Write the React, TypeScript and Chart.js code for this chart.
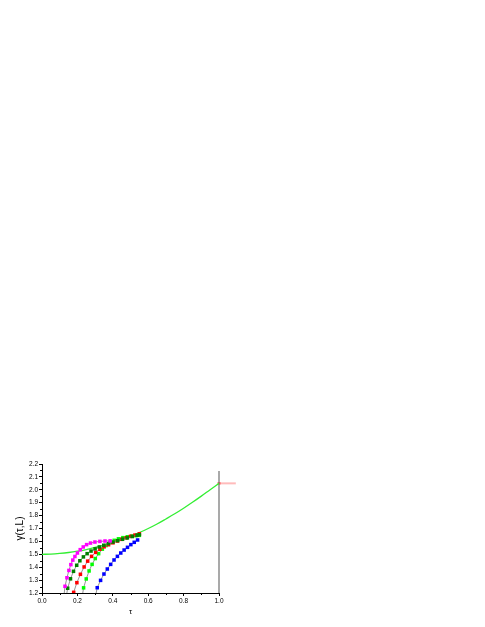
import { useEffect, useRef } from "react";
import { Chart, registerables } from "chart.js";

Chart.register(...registerables);

// Reference curve gamma(tau)
const curveTau = [0, 0.05, 0.1, 0.15, 0.2, 0.25, 0.3, 0.35, 0.4, 0.45, 0.5, 0.55, 0.6, 0.65, 0.7, 0.75, 0.8, 0.85, 0.9, 0.95, 1.0];
const curveGamma = [1.5, 1.502, 1.507, 1.514, 1.524, 1.537, 1.553, 1.571, 1.592, 1.615, 1.641, 1.669, 1.7, 1.735, 1.774, 1.814, 1.857, 1.903, 1.951, 2.001, 2.05];

// Finite-size series (first point of each lies just below the axis: line only)
const magentaTau = [0.124, 0.13, 0.141, 0.152, 0.163, 0.174, 0.186, 0.2, 0.216, 0.233, 0.252, 0.274, 0.299, 0.327, 0.356, 0.385];
const magentaGamma = [1.18, 1.252, 1.318, 1.375, 1.42, 1.455, 1.483, 1.51, 1.536, 1.557, 1.575, 1.587, 1.595, 1.6, 1.603, 1.604];

const darkGreenTau = [0.138, 0.145, 0.161, 0.178, 0.196, 0.214, 0.234, 0.255, 0.277, 0.3, 0.324, 0.349, 0.375, 0.401, 0.428, 0.455, 0.482, 0.51, 0.537, 0.55];
const darkGreenGamma = [1.18, 1.237, 1.31, 1.368, 1.415, 1.45, 1.48, 1.505, 1.525, 1.542, 1.557, 1.57, 1.583, 1.595, 1.606, 1.617, 1.627, 1.638, 1.648, 1.652];

const redTau = [0.173, 0.179, 0.197, 0.217, 0.238, 0.258, 0.28, 0.303, 0.327, 0.351, 0.376, 0.401, 0.426, 0.451, 0.476, 0.5, 0.525, 0.55];
const redGamma = [1.18, 1.205, 1.28, 1.345, 1.402, 1.447, 1.484, 1.515, 1.539, 1.558, 1.574, 1.589, 1.603, 1.616, 1.628, 1.639, 1.649, 1.659];

const greenTau = [0.228, 0.235, 0.25, 0.266, 0.283, 0.301, 0.32, 0.341, 0.362, 0.384, 0.408, 0.432, 0.457, 0.482, 0.507, 0.53, 0.55];
const greenGamma = [1.18, 1.24, 1.309, 1.371, 1.422, 1.467, 1.505, 1.54, 1.568, 1.591, 1.608, 1.62, 1.629, 1.636, 1.641, 1.644, 1.647];

const blueTau = [0.303, 0.312, 0.331, 0.35, 0.369, 0.388, 0.407, 0.426, 0.445, 0.464, 0.483, 0.502, 0.521, 0.54];
const blueGamma = [1.18, 1.241, 1.298, 1.347, 1.386, 1.422, 1.456, 1.484, 1.51, 1.533, 1.554, 1.575, 1.593, 1.611];

// Markers at tau = 1
const limitLineTau = [1.0, 1.0];
const limitLineGamma = [1.2, 2.145];
const arrowTau = [1.0, 1.095];
const arrowGamma = [2.05, 2.05];

const FONT = "'Liberation Sans', Arial, sans-serif";

const zip = (xs: number[], ys: number[]) => xs.map((x, i) => ({ x, y: ys[i] }));

function series(label: string, xs: number[], ys: number[], color: string) {
  return {
    label,
    data: zip(xs, ys),
    showLine: true,
    borderColor: "#7a7a7a",
    borderWidth: 0.8,
    pointStyle: "rect",
    pointRadius: xs.map((_, i) => (i === 0 ? 0 : 2.5)),
    pointBackgroundColor: color,
    pointBorderWidth: 0,
    pointBorderColor: color,
  };
}

const minorTicks = {
  id: "minorTicks",
  afterDraw(chart: any) {
    const { ctx } = chart;
    const xs = chart.scales.x;
    const ys = chart.scales.y;
    ctx.save();
    ctx.strokeStyle = "#000";
    ctx.lineWidth = 1;
    ctx.beginPath();
    for (let i = 0; i < xs.ticks.length - 1; i++) {
      const v = (xs.ticks[i].value + xs.ticks[i + 1].value) / 2;
      const px = Math.round(xs.getPixelForValue(v)) + 0.5;
      ctx.moveTo(px, xs.top);
      ctx.lineTo(px, xs.top + 2);
    }
    for (let i = 0; i < ys.ticks.length - 1; i++) {
      const v = (ys.ticks[i].value + ys.ticks[i + 1].value) / 2;
      const py = Math.round(ys.getPixelForValue(v)) + 0.5;
      ctx.moveTo(ys.right, py);
      ctx.lineTo(ys.right - 2, py);
    }
    ctx.stroke();
    ctx.restore();
  },
};

export default function App() {
  const ref = useRef<HTMLCanvasElement | null>(null);
  useEffect(() => {
    if (!ref.current) return;
    const chart = new Chart(ref.current, {
      type: "scatter",
      data: {
        datasets: [
          series("L1", magentaTau, magentaGamma, "#ff00ff"),
          series("L2", darkGreenTau, darkGreenGamma, "#008000"),
          series("L3", redTau, redGamma, "#ff0000"),
          series("L4", greenTau, greenGamma, "#00ff00"),
          series("L5", blueTau, blueGamma, "#0000ff"),
          {
            label: "curve",
            data: zip(curveTau, curveGamma),
            showLine: true,
            borderColor: "#33ee33",
            borderWidth: 1.3,
            pointRadius: 0,
            cubicInterpolationMode: "monotone",
          },
          {
            label: "limit",
            data: zip(limitLineTau, limitLineGamma),
            showLine: true,
            borderColor: "#8c8c8c",
            borderWidth: 1.5,
            pointRadius: 0,
            clip: false,
          },
          {
            label: "arrow",
            data: zip(arrowTau, arrowGamma),
            showLine: true,
            borderColor: "rgba(255,60,60,0.35)",
            borderWidth: 2,
            pointStyle: "rect",
            pointRadius: [1.8, 0],
            pointBackgroundColor: "#ff0000",
            pointBorderWidth: 0,
            clip: false,
          },
        ],
      } as any,
      options: {
        animation: false,
        responsive: false,
        layout: { padding: { left: 12, top: 464, right: 266, bottom: 10 } },
        plugins: { legend: { display: false }, tooltip: { enabled: false } },
        scales: {
          x: {
            type: "linear",
            min: 0,
            max: 1,
            afterFit: (s: any) => {
              s.height = 24;
            },
            ticks: {
              stepSize: 0.2,
              padding: 1,
              color: "#000",
              font: { family: FONT, size: 6.5 },
              callback: (v: any) => Number(v).toFixed(1),
            },
            grid: { drawOnChartArea: false, drawTicks: true, tickLength: 3, color: "#000" },
            border: { color: "#000", width: 1 },
            title: { display: true, text: "τ", color: "#000", font: { family: FONT, size: 8 }, padding: { top: 0, bottom: 0 } },
          },
          y: {
            type: "linear",
            min: 1.2,
            max: 2.2,
            afterFit: (s: any) => {
              s.width = 30;
            },
            ticks: {
              stepSize: 0.1,
              padding: 1,
              color: "#000",
              font: { family: FONT, size: 6.5 },
              callback: (v: any) => Number(v).toFixed(1),
            },
            grid: { drawOnChartArea: false, drawTicks: true, tickLength: 3, color: "#000" },
            border: { color: "#000", width: 1 },
            title: { display: true, text: "γ(τ,L)", color: "#000", font: { family: FONT, size: 10 }, padding: { top: 2, bottom: 2 } },
          },
        },
      } as any,
      plugins: [minorTicks],
    });
    return () => chart.destroy();
  }, []);
  return (
    <div style={{ position: "absolute", left: 0, top: 0 }}>
      <canvas ref={ref} width={485} height={627} style={{ display: "block" }} />
    </div>
  );
}
